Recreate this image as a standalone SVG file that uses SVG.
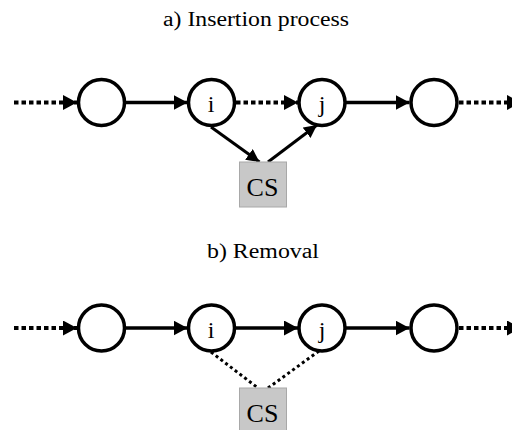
<svg xmlns="http://www.w3.org/2000/svg" width="512" height="430" viewBox="0 0 512 430">
<style>
.node{fill:#fff;stroke:#000;stroke-width:3.5}
.cs{fill:#c8c8c8;stroke:#a8a8a8;stroke-width:1}
.lbl{font-family:"Liberation Serif","Times New Roman",serif;fill:#000;text-anchor:middle}
.title{font-size:20px}
.nt{font-size:24px}
.cst{font-size:26px}
.solid{stroke:#000;stroke-width:3.5;fill:none}
.dot{stroke:#000;stroke-width:4;fill:none;stroke-dasharray:4.5 3}
.diag{stroke:#000;stroke-width:3;fill:none}
.ddiag{stroke:#000;stroke-width:3;fill:none;stroke-dasharray:3 3}
</style>
<defs>
<marker id="ah" markerUnits="userSpaceOnUse" markerWidth="16" markerHeight="16" refX="14" refY="7.5" orient="auto">
<path d="M0,0 L14,7.5 L0,15 Z" fill="#000"/>
</marker>
<marker id="ahs" markerUnits="userSpaceOnUse" markerWidth="15" markerHeight="15" refX="13" refY="6.5" orient="auto">
<path d="M0,0 L13,6.5 L0,13 Z" fill="#000"/>
</marker>
</defs>
<text class="lbl title" x="256" y="25.5" textLength="186" lengthAdjust="spacingAndGlyphs">a) Insertion process</text>
<text class="lbl title" x="263" y="258" textLength="112" lengthAdjust="spacingAndGlyphs">b) Removal</text>
<g id="connectors">
<line class="dot" x1="14" y1="102.5" x2="77" y2="102.5" marker-end="url(#ah)"/>
<line class="solid" x1="126" y1="102.5" x2="187.5" y2="102.5" marker-end="url(#ah)"/>
<line class="dot" x1="236" y1="102.5" x2="298" y2="102.5" marker-end="url(#ah)"/>
<line class="solid" x1="346" y1="102.5" x2="409.5" y2="102.5" marker-end="url(#ah)"/>
<line class="dot" x1="459" y1="102.5" x2="521" y2="102.5" marker-end="url(#ah)"/>
<line class="diag" x1="211" y1="127" x2="259.5" y2="162" marker-end="url(#ahs)"/>
<line class="diag" x1="268" y1="162" x2="317" y2="125" marker-end="url(#ahs)"/>
<line class="dot" x1="14" y1="328" x2="77" y2="328" marker-end="url(#ah)"/>
<line class="solid" x1="126" y1="328" x2="187.5" y2="328" marker-end="url(#ah)"/>
<line class="solid" x1="236" y1="328" x2="298" y2="328" marker-end="url(#ah)"/>
<line class="solid" x1="346" y1="328" x2="409.5" y2="328" marker-end="url(#ah)"/>
<line class="dot" x1="459" y1="328" x2="521" y2="328" marker-end="url(#ah)"/>
<line class="ddiag" x1="211" y1="352" x2="258" y2="388"/>
<line class="ddiag" x1="268" y1="388" x2="319" y2="351"/>
</g>
<g id="n1a"><circle class="node" cx="101.5" cy="102.5" r="23"/></g>
<g id="nia"><circle class="node" cx="211.5" cy="102.5" r="23"/><text class="lbl nt" x="211" y="112">i</text></g>
<g id="nja"><circle class="node" cx="322" cy="102.5" r="23"/><text class="lbl nt" x="322" y="112">j</text></g>
<g id="n4a"><circle class="node" cx="434" cy="102.5" r="23"/></g>
<g id="csa"><rect class="cs" x="239.5" y="162" width="47" height="45"/><text class="lbl cst" x="262.5" y="196">CS</text></g>
<g id="n1b"><circle class="node" cx="101.5" cy="328" r="23"/></g>
<g id="nib"><circle class="node" cx="211.5" cy="328" r="23"/><text class="lbl nt" x="211" y="337.5">i</text></g>
<g id="njb"><circle class="node" cx="322" cy="328" r="23"/><text class="lbl nt" x="322" y="337.5">j</text></g>
<g id="n4b"><circle class="node" cx="434" cy="328" r="23"/></g>
<g id="csb"><rect class="cs" x="239.5" y="388" width="47" height="45"/><text class="lbl cst" x="262.5" y="422">CS</text></g>
</svg>
